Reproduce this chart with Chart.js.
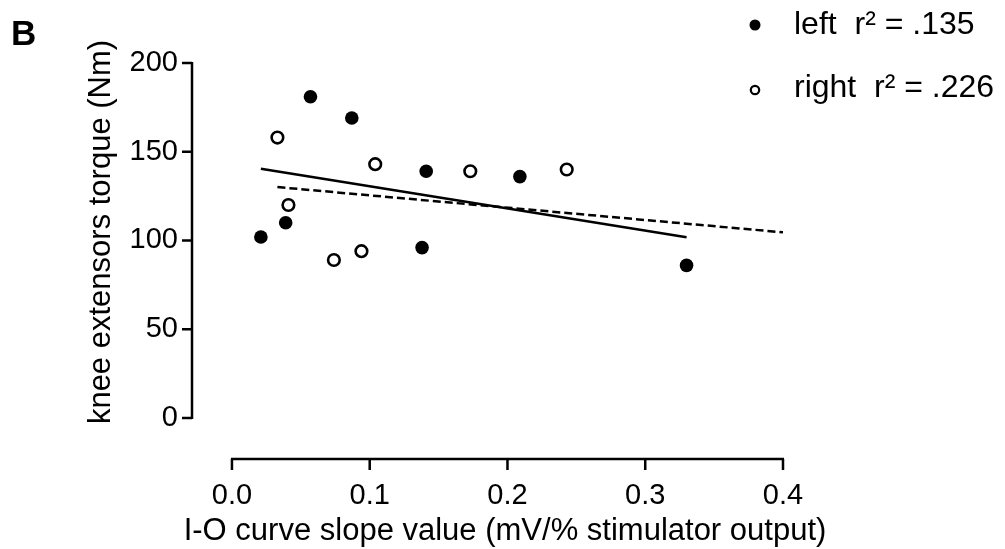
<!DOCTYPE html>
<html>
<head>
<meta charset="utf-8">
<script src="https://cdn.jsdelivr.net/npm/chart.js@4.4.1/dist/chart.umd.min.js"></script>
<style>
  html, body { margin: 0; padding: 0; background: #fff; }
  #wrap { width: 1005px; height: 549px; }
</style>
</head>
<body>
<div id="wrap"><canvas id="scatterChart" width="1005" height="549"></canvas></div>
<script>
// values
const leftX = [0.021, 0.039, 0.057, 0.087, 0.138, 0.141, 0.209, 0.330];
const leftY = [102, 110, 181, 169, 96, 139, 136, 86];
const rightX = [0.033, 0.041, 0.074, 0.094, 0.104, 0.173, 0.243];
const rightY = [158, 120, 89, 94, 143, 139, 140];

// regression lines (end points)
const leftFitX = [0.021, 0.330];
const leftFitY = [140.4, 101.8];
const rightFitX = [0.033, 0.400];
const rightFitY = [130.1, 104.6];

const xTicks = [0.0, 0.1, 0.2, 0.3, 0.4];
const yTicks = [0, 50, 100, 150, 200];
const legendLabels = ['left  r\u00B2 = .135', 'right  r\u00B2 = .226'];

const FONT = '"Liberation Sans", Arial, sans-serif';

const toPoints = (xs, ys) => xs.map((x, i) => ({ x: x, y: ys[i] }));

// axes in the style of the figure (offset, detached)
const axesPlugin = {
  id: 'figureAxes',
  afterDatasetsDraw(chart) {
    const ctx = chart.ctx;
    const xs = chart.scales.x;
    const ys = chart.scales.y;
    const yAxisX = chart.chartArea.left;
    const xAxisY = chart.chartArea.bottom;

    ctx.save();
    ctx.strokeStyle = '#000';
    ctx.lineWidth = 2.5;
    ctx.lineCap = 'butt';

    // y axis
    const yTop = ys.getPixelForValue(yTicks[yTicks.length - 1]);
    const yBot = ys.getPixelForValue(yTicks[0]);
    ctx.beginPath();
    ctx.moveTo(yAxisX, yTop - 1);
    ctx.lineTo(yAxisX, yBot + 1);
    yTicks.forEach(v => {
      const p = ys.getPixelForValue(v);
      ctx.moveTo(yAxisX, p);
      ctx.lineTo(yAxisX - 10, p);
    });
    ctx.stroke();

    // x axis
    const xL = xs.getPixelForValue(xTicks[0]);
    const xR = xs.getPixelForValue(xTicks[xTicks.length - 1]);
    ctx.beginPath();
    ctx.moveTo(xL - 1, xAxisY);
    ctx.lineTo(xR + 1, xAxisY);
    xTicks.forEach(v => {
      const p = xs.getPixelForValue(v);
      ctx.moveTo(p, xAxisY);
      ctx.lineTo(p, xAxisY + 11);
    });
    ctx.stroke();

    // axis titles
    ctx.fillStyle = '#000';
    ctx.font = '31px ' + FONT;
    ctx.textAlign = 'center';
    ctx.textBaseline = 'alphabetic';
    ctx.fillText('I-O curve slope value (mV/% stimulator output)', 505, 540);

    ctx.save();
    ctx.translate(110, 232);
    ctx.rotate(-Math.PI / 2);
    ctx.fillText('knee extensors torque (Nm)', 0, 0);
    ctx.restore();

    // panel letter
    ctx.font = 'bold 35px ' + FONT;
    ctx.textAlign = 'left';
    ctx.fillText('B', 11, 45);

    // legend
    ctx.font = '32px ' + FONT;
    ctx.textBaseline = 'middle';
    ctx.beginPath();
    ctx.arc(755, 25, 5.5, 0, Math.PI * 2);
    ctx.fill();
    ctx.fillText(legendLabels[0], 794, 25);

    ctx.beginPath();
    ctx.lineWidth = 2.2;
    ctx.arc(755, 90, 4.2, 0, Math.PI * 2);
    ctx.stroke();
    ctx.fillText(legendLabels[1], 794, 88);

    ctx.restore();
  }
};

const ctx = document.getElementById('scatterChart').getContext('2d');

new Chart(ctx, {
  type: 'scatter',
  data: {
    datasets: [
      {
        label: 'left fit',
        type: 'line',
        data: toPoints(leftFitX, leftFitY),
        borderColor: '#000',
        borderWidth: 2.5,
        pointRadius: 0,
        fill: false
      },
      {
        label: 'right fit',
        type: 'line',
        data: toPoints(rightFitX, rightFitY),
        borderColor: '#000',
        borderWidth: 2.5,
        borderDash: [8, 4],
        pointRadius: 0,
        fill: false
      },
      {
        label: 'left',
        data: toPoints(leftX, leftY),
        backgroundColor: '#000',
        borderColor: '#000',
        borderWidth: 0,
        pointRadius: 6.8
      },
      {
        label: 'right',
        data: toPoints(rightX, rightY),
        backgroundColor: '#fff',
        borderColor: '#000',
        borderWidth: 2.6,
        pointRadius: 5.8
      }
    ]
  },
  options: {
    responsive: false,
    animation: false,
    events: [],
    layout: { padding: { top: 63, right: 222, left: 0, bottom: 0 } },
    plugins: {
      legend: { display: false },
      title: { display: false },
      tooltip: { enabled: false }
    },
    scales: {
      x: {
        type: 'linear',
        min: -0.029,
        max: 0.4,
        grid: { display: false, drawTicks: false },
        border: { display: false },
        afterFit: scale => { scale.height = 90; },
        afterBuildTicks: scale => { scale.ticks = xTicks.map(v => ({ value: v })); },
        ticks: {
          color: '#000',
          padding: 20,
          font: { family: FONT, size: 29 },
          callback: value => value.toFixed(1)
        }
      },
      y: {
        type: 'linear',
        min: -23.1,
        max: 200,
        grid: { display: false, drawTicks: false },
        border: { display: false },
        afterFit: scale => { scale.width = 192; },
        afterBuildTicks: scale => { scale.ticks = yTicks.map(v => ({ value: v })); },
        ticks: {
          color: '#000',
          padding: 14,
          font: { family: FONT, size: 29 },
          callback: value => value
        }
      }
    }
  },
  plugins: [axesPlugin]
});
</script>
</body>
</html>
